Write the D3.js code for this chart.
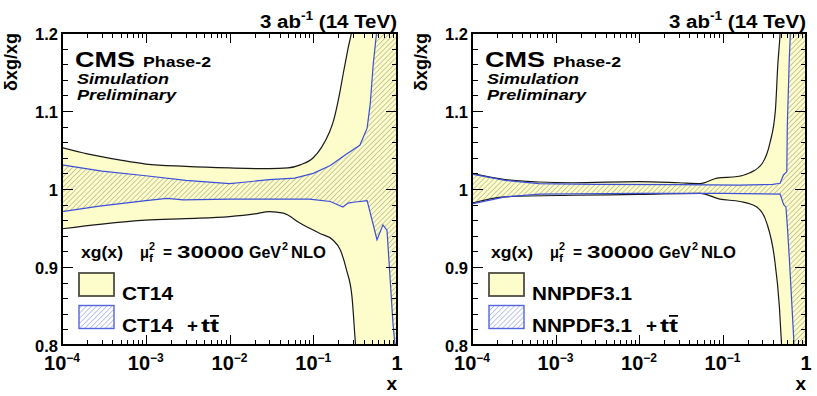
<!DOCTYPE html>
<html>
<head>
<meta charset="utf-8">
<title>Gluon PDF uncertainty</title>
<script src="https://cdn.jsdelivr.net/npm/d3@7"></script>
<style>
  html, body { margin: 0; padding: 0; background: #fff; }
  svg text { font-family: "Liberation Sans", Arial, Helvetica, sans-serif; font-weight: bold; fill: #000; }
</style>
</head>
<body>
<svg id="chart" width="817" height="396"></svg>
<script>
// ---- axis ticks ----
const xMajorTicks = [1e-4, 1e-3, 1e-2, 1e-1, 1];
const xTickMantissa = ["10", "10", "10", "10", "1"];
const xTickExponent = ["\u22124", "\u22123", "\u22122", "\u22121", ""];
const yMajorTicks = [0.8, 0.9, 1.0, 1.1, 1.2];
const yTickLabels = ["0.8", "0.9", "1", "1.1", "1.2"];

// ---- relative uncertainty of xg(x), [x, δxg/xg] ----
const ct14Upper = [[1e-4,1.053],[2e-4,1.045],[5e-4,1.037],[1e-3,1.032],[3e-3,1.029],[1e-2,1.027],[3e-2,1.026],[5e-2,1.027],[7e-2,1.031],[0.1,1.040],[0.125,1.053],[0.155,1.072],[0.175,1.088],[0.2,1.115],[0.23,1.15],[0.26,1.18],[0.29,1.205],[0.34,1.28],[0.4,1.45],[1,2.0]];
const ct14Lower = [[1e-4,0.949],[3e-4,0.955],[1e-3,0.960],[3e-3,0.962],[1e-2,0.9645],[2e-2,0.968],[3e-2,0.971],[4.4e-2,0.969],[7e-2,0.956],[0.12,0.943],[0.17,0.935],[0.21,0.922],[0.25,0.896],[0.29,0.862],[0.32,0.80],[0.4,0.70],[1,0.0]];
const ct14ttUpper = [[1e-4,1.031],[3e-4,1.023],[1e-3,1.017],[3e-3,1.011],[1e-2,1.007],[1.6e-2,1.009],[3e-2,1.012],[6e-2,1.014],[0.1,1.020],[0.16,1.030],[0.25,1.045],[0.36,1.056],[0.44,1.078],[0.48,1.11],[0.52,1.16],[0.57,1.2],[1,1.6]];
const ct14ttLower = [[1e-4,0.971],[2.8e-4,0.978],[1e-3,0.985],[1.8e-3,0.988],[2.8e-3,0.986],[1e-2,0.987],[9e-2,0.987],[0.16,0.984],[0.226,0.977],[0.26,0.982],[0.3,0.983],[0.44,0.985],[0.577,0.935],[0.68,0.954],[0.76,0.947],[0.895,0.828],[0.946,0.80],[1,0.7]];

const nnpdfUpper = [[1e-4,1.020],[2.5e-4,1.012],[6.3e-4,1.009],[1.6e-3,1.008],[1e-2,1.0094],[3e-2,1.008],[5.4e-2,1.007],[8.6e-2,1.014],[0.15,1.016],[0.21,1.0205],[0.3,1.033],[0.37,1.059],[0.43,1.101],[0.46,1.16],[0.49,1.2],[0.55,1.35],[1,2.0]];
const nnpdfLower = [[1e-4,0.982],[2.5e-4,0.990],[1.66e-3,0.992],[1e-2,0.993],[5.4e-2,0.9945],[9.3e-2,0.987],[0.162,0.984],[0.257,0.977],[0.34,0.956],[0.417,0.913],[0.48,0.849],[0.51,0.80],[0.6,0.6],[1,0.0]];
const nnpdfttUpper = [[1e-4,1.019],[2.5e-4,1.011],[6.3e-4,1.007],[3e-3,1.006],[3e-2,1.0055],[0.16,1.005],[0.4,1.006],[0.49,1.0073],[0.537,1.018],[0.589,1.022],[0.597,1.08],[0.63,1.165],[0.65,1.2],[1,1.6]];
const nnpdfttLower = [[1e-4,0.981],[2.5e-4,0.990],[6.5e-4,0.9935],[1e-2,0.9945],[0.1,0.9945],[0.49,0.9935],[0.54,0.980],[0.575,0.977],[0.6,0.95],[0.63,0.913],[0.72,0.80],[1,0.6]];

const pdfNames = ["CT14", "NNPDF3.1"];

// ---- layout ----
const panels = [
  { left: 62,  right: 397, name: pdfNames[0], labelW: 51,  base: [ct14Upper, ct14Lower],   tt: [ct14ttUpper, ct14ttLower] },
  { left: 472, right: 806, name: pdfNames[1], labelW: 100, base: [nnpdfUpper, nnpdfLower], tt: [nnpdfttUpper, nnpdfttLower] }
];
const plotTop = 33, plotBottom = 345;
const YELLOW = "#fdfdcc", BLUE = "#3d4fd6", DARK = "#1a1a1a";

const svg = d3.select("#chart");
const defs = svg.append("defs");

// diagonal hatching for the "+ tt̄" band (inside the plot and in the legend)
function hatch(id, color) {
  const p = defs.append("pattern").attr("id", id).attr("patternUnits", "userSpaceOnUse")
    .attr("width", 3.6).attr("height", 3.6).attr("patternTransform", "rotate(45)");
  p.append("line").attr("x1", 0).attr("y1", 0).attr("x2", 0).attr("y2", 3.6)
    .attr("stroke", color).attr("stroke-width", 1.4);
}
hatch("hatchPlot", "#b3b38c");
hatch("hatchLegend", "#a3a9e4");

function txt(sel, x, y, s, size, o = {}) {
  const t = sel.append("text").attr("x", x).attr("y", y).style("font-size", size + "px").text(s);
  if (o.w) t.attr("textLength", o.w).attr("lengthAdjust", "spacingAndGlyphs");
  if (o.anchor) t.attr("text-anchor", o.anchor);
  if (o.italic) t.style("font-style", "italic");
  return t;
}

const minorX = [];
for (let e = -4; e < 0; e++) for (let m = 2; m <= 9; m++) minorX.push(m * Math.pow(10, e));
const minorY = d3.range(40, 61).map(i => i / 50).filter(v => Math.abs(v * 10 - Math.round(v * 10)) > 1e-6);

panels.forEach((p, i) => {
  const L = p.left, R = p.right;
  const x = d3.scaleLog().domain([1e-4, 1]).range([L, R]);
  const y = d3.scaleLinear().domain([0.8, 1.2]).range([plotBottom, plotTop]);

  defs.append("clipPath").attr("id", "plot" + i).append("rect")
    .attr("x", L).attr("y", plotTop).attr("width", R - L).attr("height", plotBottom - plotTop);

  // region below an upper curve / above a lower curve
  const below = c => d3.area().x(d => x(d[0])).y0(4000).y1(d => y(d[1])).curve(c);
  const above = c => d3.area().x(d => x(d[0])).y0(-4000).y1(d => y(d[1])).curve(c);
  const line = c => d3.line().x(d => x(d[0])).y(d => y(d[1])).curve(c);
  const smooth = d3.curveMonotoneX, straight = d3.curveLinear;

  defs.append("clipPath").attr("id", "baseLo" + i).append("path").attr("d", above(smooth)(p.base[1]));
  defs.append("clipPath").attr("id", "ttLo" + i).append("path").attr("d", above(straight)(p.tt[1]));

  const plot = svg.append("g").attr("clip-path", `url(#plot${i})`);
  plot.append("g").attr("clip-path", `url(#baseLo${i})`)
    .append("path").attr("d", below(smooth)(p.base[0])).attr("fill", YELLOW);
  plot.append("g").attr("clip-path", `url(#ttLo${i})`)
    .append("path").attr("d", below(straight)(p.tt[0])).attr("fill", "url(#hatchPlot)");
  p.base.forEach(c => plot.append("path").attr("d", line(smooth)(c))
    .attr("fill", "none").attr("stroke", DARK).attr("stroke-width", 1.2));
  p.tt.forEach(c => plot.append("path").attr("d", line(straight)(c))
    .attr("fill", "none").attr("stroke", BLUE).attr("stroke-width", 1.2));

  // frame and inward ticks on all four sides
  svg.append("rect").attr("x", L).attr("y", plotTop).attr("width", R - L).attr("height", plotBottom - plotTop)
    .attr("fill", "none").attr("stroke", "#000").attr("stroke-width", 1.2).attr("shape-rendering", "crispEdges");
  const axes = [
    [d3.axisBottom(x), `translate(0,${plotBottom})`, xMajorTicks, minorX, 10, 5],
    [d3.axisTop(x), `translate(0,${plotTop})`, xMajorTicks, minorX, 10, 5],
    [d3.axisLeft(y), `translate(${L},0)`, yMajorTicks, minorY, 11, 5.5],
    [d3.axisRight(y), `translate(${R},0)`, yMajorTicks, minorY, 11, 5.5]
  ];
  axes.forEach(([ax, tr, major, minor, lMaj, lMin]) => {
    [[major, lMaj], [minor, lMin]].forEach(([vals, len]) => {
      const g = svg.append("g").attr("transform", tr)
        .call(ax.tickValues(vals).tickSize(-len).tickSizeOuter(0).tickFormat(""));
      g.select(".domain").remove();
      g.selectAll("line").attr("stroke", "#000").attr("shape-rendering", "crispEdges");
    });
  });

  // tick labels
  yMajorTicks.forEach((v, k) => txt(svg, L - 4, y(v) + 6.5, yTickLabels[k], 16.5, { anchor: "end" }));
  xMajorTicks.forEach((v, k) => {
    const t = svg.append("text").attr("x", x(v)).attr("y", 370).attr("text-anchor", "middle")
      .style("font-size", "20px").text(xTickMantissa[k]);
    if (xTickExponent[k]) t.append("tspan").attr("dy", -8).style("font-size", "12px").text(xTickExponent[k]);
  });

  // axis titles
  txt(svg, R, 390, "x", 19, { anchor: "end" });
  svg.append("text").attr("transform", `translate(${L - 45},${plotTop}) rotate(-90)`)
    .attr("text-anchor", "end").style("font-size", "18px").text("\u03b4xg/xg");

  // luminosity / energy label
  const lumi = svg.append("text").attr("x", R).attr("y", 27.5).attr("text-anchor", "end")
    .style("font-size", "18px").attr("textLength", 137).attr("lengthAdjust", "spacingAndGlyphs");
  lumi.append("tspan").text("3 ab");
  lumi.append("tspan").attr("dy", -7.5).style("font-size", "12px").text("-1");
  lumi.append("tspan").attr("dy", 7.5).text(" (14 TeV)");

  // experiment label
  txt(svg, L + 13, 67, "CMS", 22, { w: 60 });
  txt(svg, L + 81, 67, "Phase-2", 14, { w: 68 });
  txt(svg, L + 15, 83.5, "Simulation", 15, { w: 92, italic: true });
  txt(svg, L + 15, 100, "Preliminary", 15, { w: 99, italic: true });

  // PDF / scale annotation
  txt(svg, L + 19, 258, "xg(x)", 16, { w: 42 });
  txt(svg, L + 78, 258, "\u03bc", 16, { w: 9 });
  txt(svg, L + 87, 250, "2", 11, { w: 6 });
  txt(svg, L + 87, 262, "f", 10, { w: 4 });
  txt(svg, L + 101, 258, "=", 16, { w: 9 });
  txt(svg, L + 115, 258, "30000", 16, { w: 67 });
  txt(svg, L + 187, 258, "GeV", 16, { w: 32 });
  txt(svg, L + 220, 250, "2", 11, { w: 6 });
  txt(svg, L + 229, 258, "NLO", 16, { w: 35 });

  // legend
  const bx = L + 17, bw = 35, bh = 23;
  svg.append("rect").attr("x", bx).attr("y", 273).attr("width", bw).attr("height", bh)
    .attr("fill", YELLOW).attr("stroke", "#4d4d45").attr("stroke-width", 1.8);
  svg.append("rect").attr("x", bx).attr("y", 305.5).attr("width", bw).attr("height", bh)
    .attr("fill", "url(#hatchLegend)").attr("stroke", "#5565e0").attr("stroke-width", 1.4);
  const lx = L + 60;
  txt(svg, lx, 299.5, p.name, 17.5, { w: p.labelW });
  txt(svg, lx, 332, p.name, 17.5, { w: p.labelW });
  const e = lx + p.labelW;
  txt(svg, e + 14, 332, "+", 17.5, { w: 11 });
  const tt = svg.append("text").attr("x", e + 28).attr("y", 332).style("font-size", "17.5px")
    .attr("textLength", 18).attr("lengthAdjust", "spacingAndGlyphs");
  tt.append("tspan").text("t");
  tt.append("tspan").style("text-decoration", "overline").text("t");
});
</script>
</body>
</html>
